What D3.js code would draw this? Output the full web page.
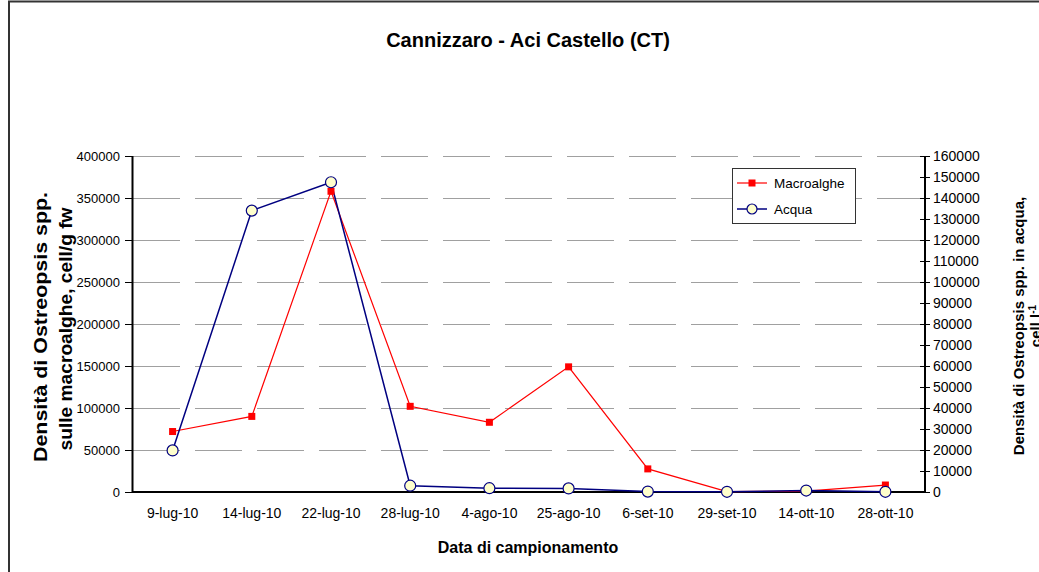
<!DOCTYPE html>
<html>
<head>
<meta charset="utf-8">
<script src="https://cdn.jsdelivr.net/npm/d3@7"></script>
<style>
  body { margin: 0; background: #fff; }
  svg text { font-family: Arial, "Liberation Sans", sans-serif; }
</style>
</head>
<body>
<div class="canvas"></div>
<script>
const WIDTH = 1039, HEIGHT = 572;
const MARGIN = { top: 156, right: 114, bottom: 80, left: 133 };
const GRAPH_WIDTH = WIDTH - MARGIN.left - MARGIN.right;
const GRAPH_HEIGHT = HEIGHT - MARGIN.top - MARGIN.bottom;

// data
const dates = ['9-lug-10', '14-lug-10', '22-lug-10', '28-lug-10', '4-ago-10',
  '25-ago-10', '6-set-10', '29-set-10', '14-ott-10', '28-ott-10'];
const macroalghe = [72000, 90000, 358000, 102000, 83000, 149000, 27500, 500, 1000, 8300];
const acqua = [19800, 134000, 147500, 3000, 1800, 1700, 200, 100, 700, 100];
const leftTicks = [0, 50000, 100000, 150000, 200000, 250000, 300000, 350000, 400000];
const rightTicks = [0, 10000, 20000, 30000, 40000, 50000, 60000, 70000, 80000,
  90000, 100000, 110000, 120000, 130000, 140000, 150000, 160000];

const svg = d3.select('.canvas').append('svg')
  .attr('width', WIDTH)
  .attr('height', HEIGHT);

// outer frame
svg.append('path')
  .attr('d', `M9,${HEIGHT} V1.5 H${WIDTH}`)
  .attr('fill', 'none')
  .attr('stroke', '#333')
  .attr('stroke-width', 2);

const graph = svg.append('g')
  .attr('transform', `translate(${MARGIN.left}, ${MARGIN.top})`);

//scales
const x = d3.scaleBand().domain(dates).range([0, GRAPH_WIDTH]);
const yL = d3.scaleLinear().domain([0, 400000]).range([GRAPH_HEIGHT, 0]);
const yR = d3.scaleLinear().domain([0, 160000]).range([GRAPH_HEIGHT, 0]);
const cx = d => x(d) + x.bandwidth() / 2;

//gridlines
graph.append('g')
  .selectAll('line')
  .data(leftTicks.filter(t => t > 0))
  .join('line')
  .attr('x1', 0).attr('x2', GRAPH_WIDTH)
  .attr('y1', d => Math.round(yL(d)) + 0.5).attr('y2', d => Math.round(yL(d)) + 0.5)
  .attr('stroke', '#a0a0a0')
  .attr('stroke-width', 1)
  .attr('stroke-dasharray', '47 15');

//axes
const leftAxis = graph.append('g')
  .call(d3.axisLeft(yL).tickValues(leftTicks).tickSize(8).tickPadding(5).tickFormat(d3.format('d')));
const rightAxis = graph.append('g')
  .attr('transform', `translate(${GRAPH_WIDTH}, 0)`)
  .call(d3.axisRight(yR).tickValues(rightTicks).tickSize(5).tickPadding(3).tickFormat(d3.format('d')));
const bottomAxis = graph.append('g')
  .attr('transform', `translate(0, ${GRAPH_HEIGHT})`)
  .call(d3.axisBottom(x).tickSize(0).tickPadding(16));

[leftAxis, rightAxis, bottomAxis].forEach(a => {
  a.select('.domain').attr('stroke', '#000').attr('stroke-width', 2);
  a.selectAll('text').attr('fill', '#000')
    .attr('font-family', 'Arial, "Liberation Sans", sans-serif');
  a.selectAll('.tick line').attr('stroke', '#000');
});
leftAxis.selectAll('text').attr('font-size', 13);
rightAxis.selectAll('text').attr('font-size', 14);
bottomAxis.selectAll('text').attr('font-size', 14);
leftAxis.select('.domain').attr('d', `M-0.5,0V${GRAPH_HEIGHT}`);
rightAxis.select('.domain').attr('d', `M0,0V${GRAPH_HEIGHT}`);
rightAxis.selectAll('.tick line').attr('x1', -5);
bottomAxis.select('.domain').attr('d', `M-1,0H${GRAPH_WIDTH}`);

//lines
const lineL = d3.line().x((d, i) => cx(dates[i])).y(d => yL(d));
const lineR = d3.line().x((d, i) => cx(dates[i])).y(d => yR(d));

graph.append('path')
  .datum(macroalghe)
  .attr('d', lineL)
  .attr('fill', 'none')
  .attr('stroke', '#ff0000')
  .attr('stroke-width', 1.2);

graph.append('path')
  .datum(acqua)
  .attr('d', lineR)
  .attr('fill', 'none')
  .attr('stroke', '#000080')
  .attr('stroke-width', 1.5);

graph.append('g')
  .selectAll('rect')
  .data(macroalghe)
  .join('rect')
  .attr('x', (d, i) => cx(dates[i]) - 3.5)
  .attr('y', d => yL(d) - 3.5)
  .attr('width', 7).attr('height', 7)
  .attr('fill', '#ff0000');

graph.append('g')
  .selectAll('circle')
  .data(acqua)
  .join('circle')
  .attr('cx', (d, i) => cx(dates[i]))
  .attr('cy', d => yR(d))
  .attr('r', 5.5)
  .attr('fill', '#ffffcc')
  .attr('stroke', '#000080')
  .attr('stroke-width', 1.2);

//legend
const legend = svg.append('g').attr('transform', 'translate(732, 168)');
legend.append('rect')
  .attr('x', 0.5).attr('y', 0.5).attr('width', 123).attr('height', 55)
  .attr('fill', '#fff').attr('stroke', '#333').attr('stroke-width', 1);
const legendItems = [
  { name: 'Macroalghe', color: '#ff0000' },
  { name: 'Acqua', color: '#000080' }
];
legendItems.forEach((item, i) => {
  const g = legend.append('g').attr('transform', `translate(0, ${15 + i * 26})`);
  g.append('line').attr('x1', 5).attr('x2', 35).attr('y1', 0).attr('y2', 0)
    .attr('stroke', item.color).attr('stroke-width', i ? 1.5 : 1.2);
  if (i === 0) {
    g.append('rect').attr('x', 16.5).attr('y', -3.5).attr('width', 7).attr('height', 7).attr('fill', '#ff0000');
  } else {
    g.append('circle').attr('cx', 20).attr('cy', 0).attr('r', 5)
      .attr('fill', '#ffffcc').attr('stroke', '#000080').attr('stroke-width', 1.2);
  }
  g.append('text').attr('x', 42).attr('y', 5)
    .attr('font-size', 13.5).text(item.name);
});

//titles
svg.append('text')
  .attr('x', 528).attr('y', 47)
  .attr('text-anchor', 'middle')
  .attr('font-size', 20).attr('font-weight', 'bold')
  .text('Cannizzaro - Aci Castello (CT)');

svg.append('text')
  .attr('x', 528).attr('y', 553)
  .attr('text-anchor', 'middle')
  .attr('font-size', 16).attr('font-weight', 'bold')
  .text('Data di campionamento');

const leftTitle = svg.append('text')
  .attr('transform', 'translate(47, 327) rotate(-90)')
  .attr('text-anchor', 'middle')
  .attr('font-size', 19).attr('font-weight', 'bold');
leftTitle.append('tspan').attr('x', 0).attr('y', 0)
  .attr('textLength', 270).attr('lengthAdjust', 'spacingAndGlyphs')
  .text('Densità di Ostreopsis spp.');
leftTitle.append('tspan').attr('x', -2).attr('y', 25)
  .attr('textLength', 243).attr('lengthAdjust', 'spacingAndGlyphs')
  .text('sulle macroalghe, cell/g fw');

const rightTitle = svg.append('text')
  .attr('transform', 'translate(1024, 326) rotate(-90)')
  .attr('text-anchor', 'middle')
  .attr('font-size', 15).attr('font-weight', 'bold');
rightTitle.append('tspan').attr('x', 0).attr('y', 0).text('Densità di Ostreopsis spp. in acqua,');
const second = rightTitle.append('tspan').attr('x', 0).attr('y', 17).text('cell l');
second.append('tspan').attr('dy', -5).attr('font-size', 10).text('-1');
</script>
</body>
</html>
